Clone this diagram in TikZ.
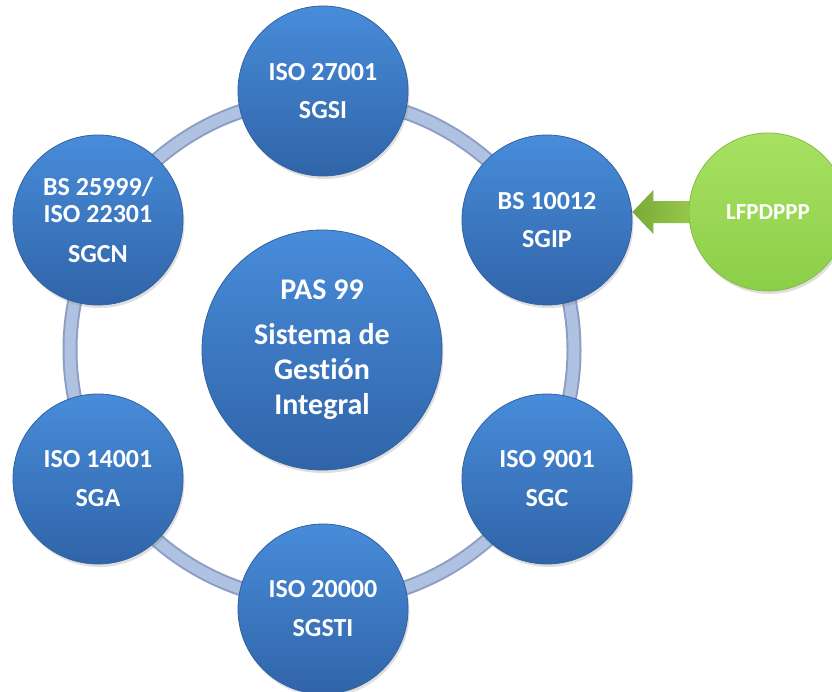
\documentclass[tikz,border=0pt]{standalone}
\usepackage{fontspec}
\setmainfont{Carlito}[Ligatures={NoCommon}]
\usetikzlibrary{shadows,calc}
\definecolor{bluetop}{RGB}{72,140,218}
\definecolor{bluebot}{RGB}{48,100,168}
\definecolor{blueedge}{RGB}{50,98,160}
\definecolor{greentop}{RGB}{168,225,98}
\definecolor{greenbot}{RGB}{140,206,72}
\definecolor{greenedge}{RGB}{130,190,70}
\definecolor{arrowdark}{RGB}{120,170,55}
\definecolor{arrowlight}{RGB}{165,210,85}
\definecolor{ringdark}{RGB}{140,158,196}
\definecolor{ringlight}{RGB}{176,194,226}
\tikzset{
  ball/.style={circle, inner sep=0pt, minimum size=170pt, top color=bluetop, bottom color=bluebot,
    draw=blueedge, line width=0.8pt, text=white, align=center,
    font=\fontsize{26}{28}\selectfont\bfseries,
    drop shadow={opacity=0.25, shadow xshift=1.5pt, shadow yshift=-3pt}},
  bigball/.style={ball, minimum size=240pt, font=\fontsize{30}{35}\selectfont\bfseries},
  greenball/.style={ball, minimum size=158pt, top color=greentop, bottom color=greenbot,
    draw=greenedge, font=\fontsize{23}{27}\selectfont\bfseries}
}
\begin{document}
\begin{tikzpicture}[x=1pt,y=-1pt]
\fill[white] (0,0) rectangle (832,691);
\useasboundingbox (0,0) rectangle (832,691);
\coordinate (c) at (322,350);
\draw[ringdark, line width=15pt] (c) circle (252pt);
\draw[ringlight, line width=11pt] (c) circle (252pt);
\node[bigball] (pas) at (c) {PAS 99\\[10pt]Sistema de\\Gestión\\Integral};
\node[ball] (sgsi) at (323,91) {ISO 27001\\[10pt]SGSI};
\node[ball] (sgip) at (547,220) {BS 10012\\[10pt]SGIP};
\node[ball] (sgc) at (547,479) {ISO 9001\\[11pt]SGC};
\node[ball] (sgsti) at (323,609) {ISO 20000\\[11pt]SGSTI};
\node[ball] (sga) at (98,479) {ISO 14001\\[11pt]SGA};
\node[ball] (sgcn) at (98,220) {BS 25999/\\[-1pt]ISO 22301\\[12pt]SGCN};
\coordinate (lfpos) at (768,212);
\coordinate (tip) at (sgip.east |- lfpos);
\shade[left color=arrowdark, right color=arrowlight]
  (tip) -- ([shift={(21,-22)}]tip) -- ([shift={(21,-11)}]tip) -- ([shift={(80,-11)}]tip)
  -- ([shift={(80,11)}]tip) -- ([shift={(21,11)}]tip) -- ([shift={(21,22)}]tip) -- cycle;
\node[greenball] (lf) at (lfpos) {LFPDPPP};
\end{tikzpicture}
\end{document}
